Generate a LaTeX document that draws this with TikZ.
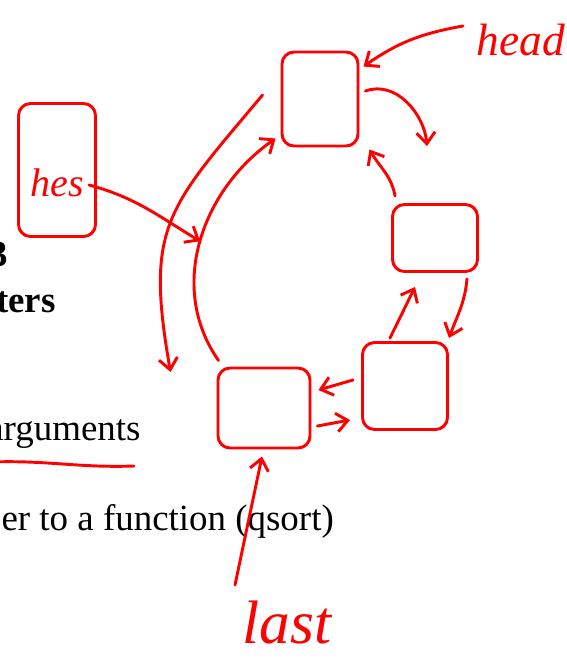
\documentclass[tikz,border=0pt]{standalone}
\usepackage{fontspec}
\setmainfont{Liberation Serif}
\usetikzlibrary{arrows.meta,calc}

\tikzset{every picture/.style={line width=0.75pt}}
\tikzset{
  ink/.style={draw=red, line width=2.2pt, line cap=round, line join=round},
  cell/.style={ink, rounded corners=9pt, inner sep=0pt},
  inkarrow/.style={ink, -{Straight Barb[length=8.5pt,width=14pt]}},
  scrawl/.style={text=red, inner sep=0pt},
  slide/.style={inner sep=0pt, font=\fontsize{27.7}{32}\selectfont},
}

\begin{document}
\begin{tikzpicture}[x=0.75pt,y=0.75pt,yscale=-1,xscale=1]
\path [fill=white, use as bounding box] (0,0) rectangle (567,661);

% Text Node
\draw (8,266) node (num) [anchor=base east] [slide] {\bfseries 3};
% Text Node
\draw (56,312) node (title) [anchor=base east] [slide] {\bfseries ters};
% Text Node
\draw (141,440) node (args) [anchor=base east] [slide] {arguments};
% Text Node
\draw (1,530) node (qsort) [anchor=base west] [slide] {er to a function (qsort)};

%Shape: list cells
\draw (320,99) node (box1) [cell, minimum width=57pt, minimum height=70.5pt] {};
\draw (435,238) node (box2) [cell, minimum width=63.75pt, minimum height=50.25pt] {};
\draw (405,386) node (box3) [cell, minimum width=63.75pt, minimum height=65.25pt] {};
\draw (264,408) node (box4) [cell, minimum width=69pt, minimum height=60pt] {};
%Shape: pointer variable
\draw (57,170) node (hesbox) [cell, minimum width=57.75pt, minimum height=99.75pt] {};

% Handwritten labels
\draw (521,55) node (head) [anchor=base] [scrawl, font=\itshape\fontsize{34}{34}\selectfont] {head};
\draw (57,196) node (hes) [anchor=base] [scrawl, font=\itshape\fontsize{30}{30}\selectfont] {hes};
\draw (287,643) node (last) [anchor=base] [scrawl, font=\itshape\fontsize{46}{46}\selectfont] {last};

% underline
\draw [ink] ($(args.base east)+(-150,22)$) to[out=-2,in=178] ($(args.base east)+(-7,26)$);

% next / prev links
\draw [inkarrow] ($(box1.east)+(6,-8)$) to[out=-20,in=-95] ($(box2.north)+(-8,-57)$);
\draw [inkarrow] ($(box2.north west)+(4,-7)$) to[out=-100,in=60] ($(box1.south east)+(10,2)$);
\draw [inkarrow] ($(box2.south east)+(-12,6)$) to[out=95,in=-70] ($(box3.north east)+(0,-3)$);
\draw [inkarrow] ($(box3.north)+(-15,-3)$) -- ($(box2.south)+(-20,14)$);
\draw [inkarrow] ($(box3.west)+(-8,-6)$) -- ($(box4.east)+(7,-18)$);
\draw [inkarrow] ($(box4.east)+(6,18)$) -- ($(box3.west)+(-11,34)$);
\draw [inkarrow] ($(box4.north west)+(2,-6)$) to[out=-125,in=145] coordinate[pos=0.5] (hit) ($(box1.south west)+(-5,-9)$);
\draw [inkarrow] ($(box1.west)+(-18,-4)$) to[out=130,in=-100, looseness=1.3] ($(box4.west)+(-46,-36)$);

% external pointers
\draw [inkarrow] ($(head.base)+(-58,-29)$) to[out=170,in=-35] ($(box1.north east)+(4,16)$);
\draw [inkarrow] ($(hes.base)+(32,-11)$) to[out=15,in=-149] (hit);
\draw [inkarrow] ($(last.base)+(-52,-58)$) -- ($(box4.south)+(-2,7)$);

\end{tikzpicture}
\end{document}
